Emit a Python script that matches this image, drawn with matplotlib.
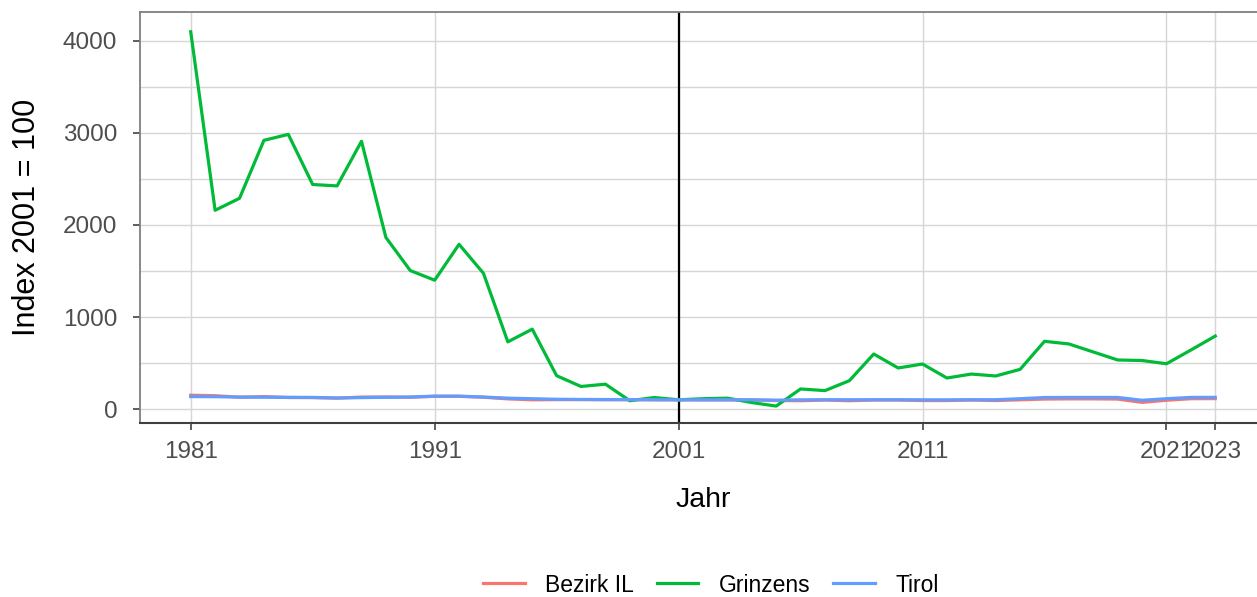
import matplotlib
matplotlib.use("Agg")
import matplotlib.pyplot as plt

plt.rcParams['font.family'] = ['Liberation Sans', 'DejaVu Sans']

# Daten: Index 2001 = 100
jahre = list(range(1981, 2024))

grinzens = [4100, 2160, 2290, 2920, 2985, 2440, 2425, 2910, 1865, 1505,
            1400, 1790, 1475, 730, 868, 362, 245, 270, 90, 125,
            100, 112, 118, 70, 32, 218, 200, 308, 598, 446,
            489, 337, 380, 359, 431, 736, 707, 620, 533, 527,
            492, 641, 793]

bezirk_il = [150, 145, 128, 135, 125, 124, 118, 130, 131, 128,
             138, 138, 128, 110, 100, 102, 102, 101, 101, 100,
             100, 99, 99, 98, 92, 90, 97, 90, 97, 97,
             92, 92, 97, 92, 100, 108, 110, 110, 108, 72,
             95, 112, 113]

tirol = [135, 134, 130, 128, 127, 126, 120, 124, 127, 130,
         140, 140, 130, 118, 112, 106, 104, 103, 102, 101,
         100, 100, 100, 100, 96, 100, 101, 101, 101, 101,
         100, 100, 101, 101, 112, 125, 126, 126, 126, 95,
         112, 126, 127]

x_breaks = [1981, 1991, 2001, 2011, 2021, 2023]
y_breaks = [0, 1000, 2000, 3000, 4000]

W, H = 1257, 597
fig = plt.figure(figsize=(W / 100, H / 100), dpi=100)
# Panel reicht rechts über den Bildrand hinaus (wie im Original)
ax = fig.add_axes([139.5 / W, 1 - 423 / H, 1127 / W, 411 / H])

ax.set_xlim(1978.9, 2025.1)
ax.set_ylim(-152, 4315)

# Gitter
for y in range(0, 4500, 500):
    ax.axhline(y, color='#d6d6d6', lw=1.0, zorder=0)
for x in x_breaks:
    ax.axvline(x, color='#d6d6d6', lw=1.0, zorder=0)

ax.axvline(2001, color='black', lw=1.6, zorder=1)

farben = {'Bezirk IL': '#F8766D', 'Grinzens': '#00BA38', 'Tirol': '#619CFF'}
ax.plot(jahre, bezirk_il, color=farben['Bezirk IL'], lw=2.3, label='Bezirk IL', zorder=2)
ax.plot(jahre, grinzens, color=farben['Grinzens'], lw=2.3, label='Grinzens', zorder=3)
ax.plot(jahre, tirol, color=farben['Tirol'], lw=2.3, label='Tirol', zorder=4)

ax.set_xticks(x_breaks)
ax.set_yticks(y_breaks)
ax.set_xticklabels([str(j) for j in x_breaks])
ax.set_yticklabels([str(v) for v in y_breaks])
ax.tick_params(axis='both', colors='#333333', labelcolor='#4d4d4d',
               labelsize=17.5, length=5, width=1.1)
ax.tick_params(axis='x', pad=8)
ax.tick_params(axis='y', pad=11)

for s in ['left', 'top', 'right']:
    ax.spines[s].set_color('#7f7f7f')
    ax.spines[s].set_linewidth(1.3)
ax.spines['bottom'].set_color('#404040')
ax.spines['bottom'].set_linewidth(1.5)

ax.set_xlabel('Jahr', fontsize=20.5, labelpad=17)
ax.set_ylabel('Index 2001 = 100', fontsize=22, labelpad=15)

fig.legend(loc='center', bbox_to_anchor=(711 / W, 1 - 585 / H), ncol=3, frameon=False,
           fontsize=16.5, handlelength=1.8, handletextpad=0.9, columnspacing=1.0)

fig.savefig('out.png', dpi=100)
